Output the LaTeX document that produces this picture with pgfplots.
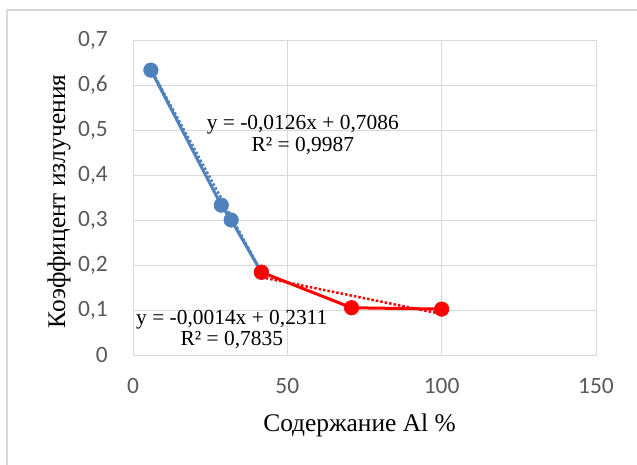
\documentclass[border=0pt]{standalone}
\usepackage{pgfplots}
\pgfplotsset{compat=1.18}
\usepackage{fontspec}
\setmainfont{Liberation Serif}
\newfontfamily\tickfont{Carlito}
\definecolor{gridc}{HTML}{D9D9D9}
\definecolor{tickc}{HTML}{595959}
\definecolor{blueS}{HTML}{4F81BD}
\begin{document}
\begin{tikzpicture}
\useasboundingbox (0,0) rectangle (637bp,465bp);
\draw[gridc, line width=1.2bp] (7bp,0) -- (7bp,455bp) -- (637bp,455bp);
\begin{axis}[
  at={(133bp,110bp)}, anchor=south west,
  scale only axis, width=463bp, height=315bp,
  xmin=0, xmax=150, ymin=0, ymax=0.7,
  xtick={0,50,100,150}, ytick={0,0.1,...,0.7},
  grid=major, grid style={gridc, line width=1bp},
  axis line style={gridc, line width=1bp},
  major tick length=0pt,
  xticklabel={\pgfmathprintnumber[assume math mode=true]{\tick}},
  yticklabel={\pgfmathprintnumber[assume math mode=true,fixed,use comma]{\tick}},
  tick label style={font=\tickfont\fontsize{23.5}{26}\selectfont, text=tickc, inner sep=0pt},
  xticklabel style={anchor=center, yshift=-31bp},
  yticklabel style={anchor=east, xshift=-25bp},
  xlabel={Содержание Al \%},
  ylabel={Коэффицент излучения},
  label style={font=\fontsize{25.5}{28}\selectfont},
  xlabel style={at={(axis description cs:0.5,0)}, anchor=center, yshift=-70bp, xshift=-5bp},
  ylabel style={at={(axis description cs:0,0.5)}, anchor=center, yshift=74bp, xshift=-4bp},
  clip=false,
]
% trendlines
\addplot[blueS, dotted, line width=2.5bp] coordinates {(5.8,0.6355) (41.6,0.1844)};
\addplot[red, dotted, line width=2.5bp] coordinates {(41.6,0.1729) (100,0.0911)};
% data
\addplot[blueS, line width=3bp, mark=*, mark size=7.3bp, mark options={fill=blueS, draw=blueS, line width=0.5bp}]
  coordinates {(5.8,0.633) (28.6,0.333) (31.8,0.300) (41.6,0.184)};
\addplot[red, line width=3bp, mark=*, mark size=7.3bp, mark options={fill=red, draw=red, line width=0.5bp}]
  coordinates {(41.6,0.184) (70.8,0.105) (100,0.102)};
\node[align=center, font=\fontsize{21.5}{21.5}\selectfont] at (axis cs:55,0.489) {y = -0,0126x + 0,7086\\R² = 0,9987};
\node[align=center, font=\fontsize{21.5}{21.5}\selectfont] at (axis cs:32,0.056) {y = -0,0014x + 0,2311\\R² = 0,7835};
\end{axis}
\end{tikzpicture}
\end{document}
